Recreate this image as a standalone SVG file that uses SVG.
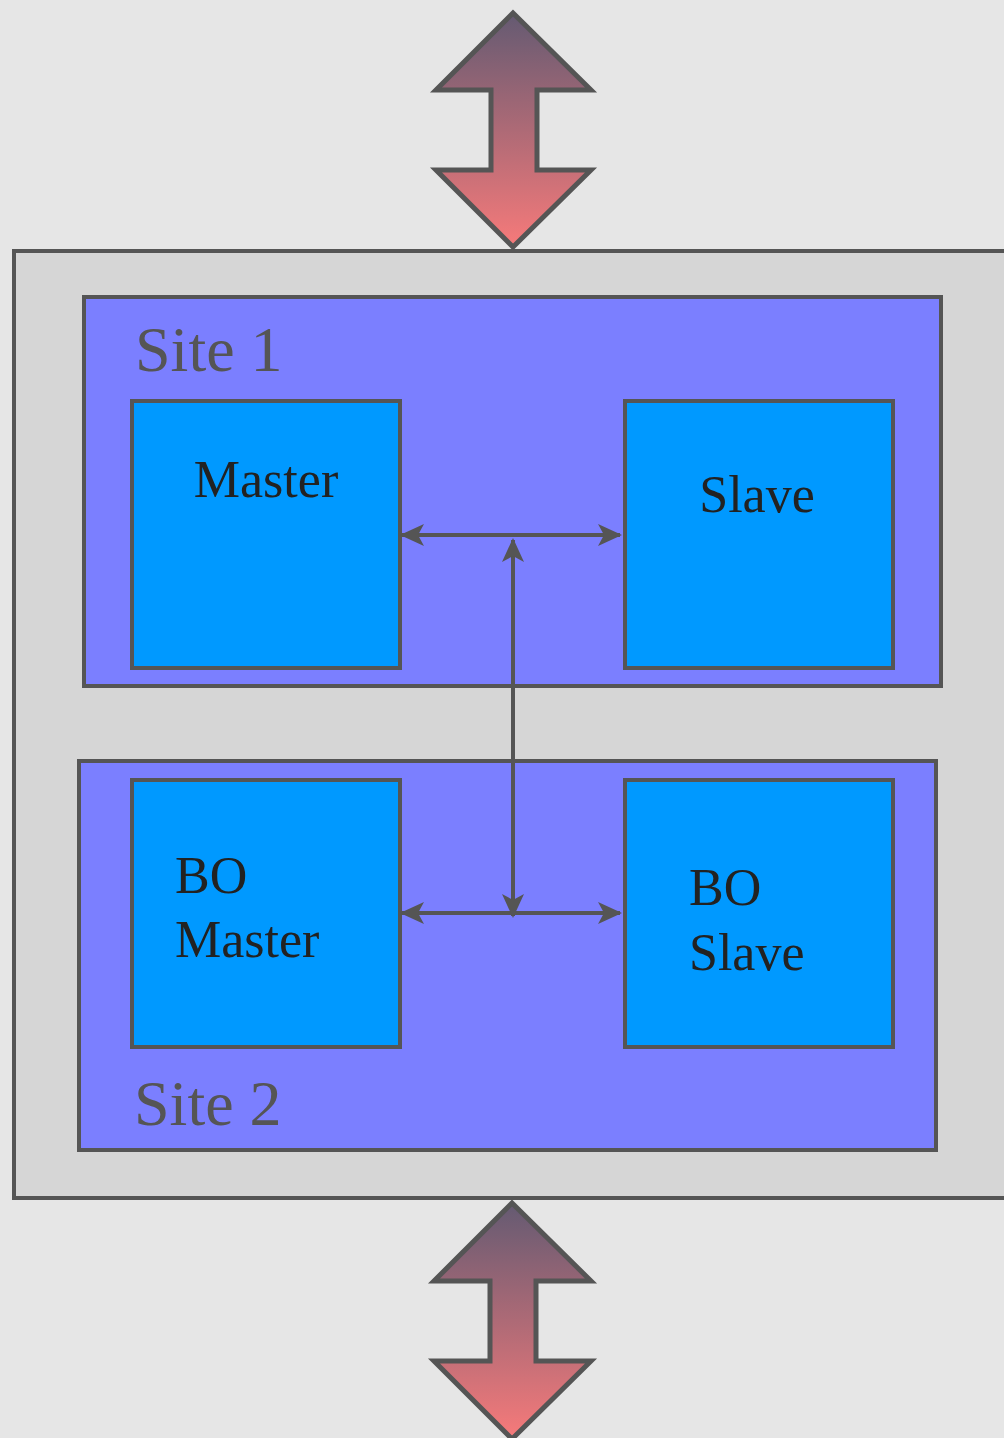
<svg xmlns="http://www.w3.org/2000/svg" width="1004" height="1438" viewBox="0 0 1004 1438">
<defs>
<linearGradient id="ag" x1="0" y1="0" x2="0" y2="1">
<stop offset="0" stop-color="#645a72"/>
<stop offset="1" stop-color="#f77a7a"/>
</linearGradient>
<marker id="ah" viewBox="0 0 24 22" refX="22" refY="11" markerWidth="24" markerHeight="22" markerUnits="userSpaceOnUse" orient="auto-start-reverse">
<path d="M0,0 L24,11 L0,22 L6,11 Z" fill="#555"/>
</marker>
<style>
.box{stroke:#555;stroke-width:4}
.site{fill:#7b7fff}
.node{fill:#0099ff}
.arr{fill:url(#ag);stroke:#555;stroke-width:5;stroke-linejoin:miter}
.lbl{font-family:"Liberation Serif",serif;font-size:52px;fill:#222}
.sl{font-family:"Liberation Serif",serif;font-size:64px;fill:#555}
.con{stroke:#555;stroke-width:4;fill:none}
</style>
</defs>
<rect width="1004" height="1438" fill="#e6e6e6"/>
<g id="top-arrow"><path class="arr" d="M513,13 L436,90 L491,90 L491,170 L436,170 L513,247 L591,170 L537,170 L537,90 L591,90 Z"/></g>
<g id="cluster"><rect class="box" x="14" y="251" width="1010" height="947" fill="#d6d6d6"/></g>
<g id="site1"><rect class="box site" x="84" y="297" width="857" height="389"/><text class="sl" x="135" y="371">Site 1</text></g>
<g id="site2"><rect class="box site" x="79" y="761" width="857" height="389"/><text class="sl" x="134" y="1125">Site 2</text></g>
<g id="master"><rect class="box node" x="132" y="401" width="268" height="267"/><text class="lbl" x="266" y="497" text-anchor="middle">Master</text></g>
<g id="slave"><rect class="box node" x="625" y="401" width="268" height="267"/><text class="lbl" x="757" y="512" text-anchor="middle">Slave</text></g>
<g id="bo-master"><rect class="box node" x="132" y="780" width="268" height="267"/><text class="lbl" x="175" y="893">BO</text><text class="lbl" x="175" y="957">Master</text></g>
<g id="bo-slave"><rect class="box node" x="625" y="780" width="268" height="267"/><text class="lbl" x="689" y="905">BO</text><text class="lbl" x="689" y="970">Slave</text></g>
<g id="connectors">
<line class="con" x1="402" y1="535" x2="620" y2="535" marker-start="url(#ah)" marker-end="url(#ah)"/>
<line class="con" x1="402" y1="913" x2="620" y2="913" marker-start="url(#ah)" marker-end="url(#ah)"/>
<line class="con" x1="513" y1="540" x2="513" y2="916" marker-start="url(#ah)" marker-end="url(#ah)"/>
</g>
<g id="bottom-arrow"><path class="arr" d="M512,1203 L434,1281 L490,1281 L490,1361 L434,1361 L512,1439 L591,1361 L536,1361 L536,1281 L591,1281 Z"/></g>
</svg>
